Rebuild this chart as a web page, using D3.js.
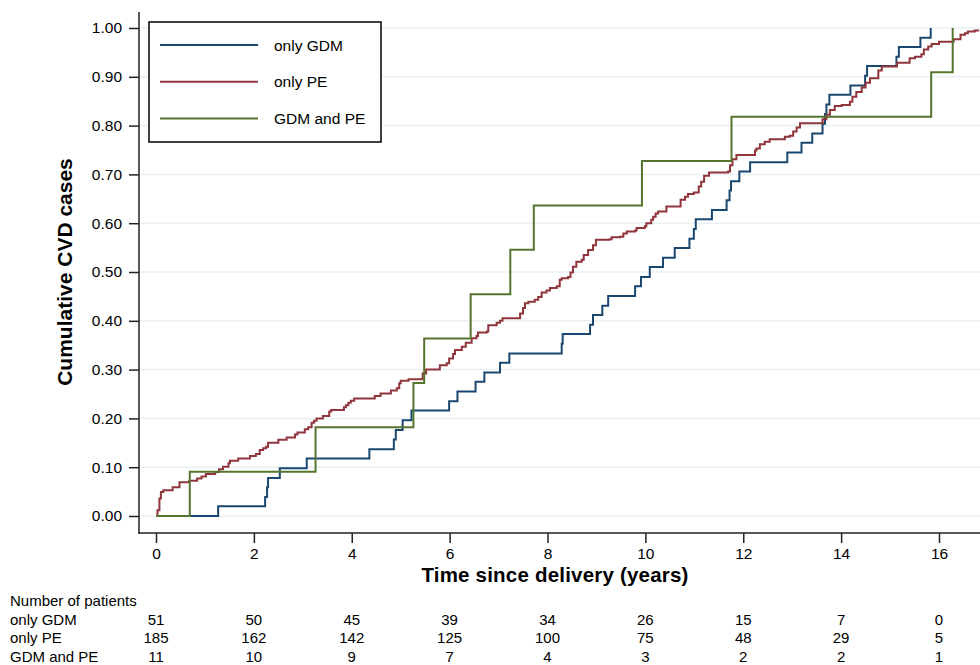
<!DOCTYPE html>
<html>
<head>
<meta charset="utf-8">
<script src="https://cdn.jsdelivr.net/npm/d3@7"></script>
<style>
  body { margin: 0; background: #fff; }
  svg text { font-family: "Liberation Sans", Arial, Helvetica, sans-serif; fill: #000; }
</style>
</head>
<body>
<div class="root"></div>
<script>
// Kaplan-Meier style cumulative curves, [years, cumulative share]
const onlyGDM = [
  [0, 0], [1.27, 0.020], [2.23, 0.039], [2.27, 0.059], [2.29, 0.078], [2.53, 0.098],
  [3.08, 0.118], [4.36, 0.137], [4.86, 0.157], [4.90, 0.176], [5.04, 0.196], [5.22, 0.216],
  [5.99, 0.235], [6.16, 0.255], [6.53, 0.275], [6.71, 0.294], [7.03, 0.314], [7.22, 0.333],
  [8.29, 0.353], [8.31, 0.373], [8.87, 0.392], [8.93, 0.412], [9.12, 0.431], [9.24, 0.451],
  [9.79, 0.471], [9.91, 0.490], [10.09, 0.510], [10.36, 0.529], [10.60, 0.549], [10.90, 0.568],
  [10.99, 0.588], [11.03, 0.608], [11.36, 0.627], [11.66, 0.647], [11.72, 0.667], [11.75, 0.686],
  [11.92, 0.706], [12.14, 0.725], [12.90, 0.745], [13.19, 0.765], [13.41, 0.784], [13.62, 0.804],
  [13.67, 0.824], [13.70, 0.843], [13.76, 0.863], [14.19, 0.882], [14.49, 0.902], [14.53, 0.922],
  [15.13, 0.941], [15.18, 0.961], [15.62, 0.980], [15.83, 1.0]
];
const onlyPE = [
  [0, 0], [0.03, 0.012], [0.07, 0.036], [0.10, 0.049], [0.15, 0.053], [0.34, 0.059], [0.48, 0.069],
  [0.68, 0.072], [0.84, 0.077], [0.93, 0.081], [1.02, 0.086], [1.21, 0.090], [1.29, 0.096],
  [1.37, 0.101], [1.48, 0.108], [1.51, 0.113], [1.68, 0.118], [1.92, 0.123], [2.04, 0.127],
  [2.12, 0.135], [2.19, 0.139], [2.25, 0.142], [2.29, 0.150], [2.50, 0.156], [2.67, 0.161],
  [2.84, 0.167], [2.89, 0.171], [3.04, 0.178], [3.11, 0.182], [3.18, 0.191], [3.23, 0.195],
  [3.28, 0.200], [3.41, 0.205], [3.54, 0.214], [3.58, 0.217], [3.84, 0.223], [3.88, 0.227],
  [3.93, 0.232], [3.98, 0.236], [4.05, 0.241], [4.47, 0.246], [4.59, 0.251], [4.80, 0.257],
  [4.92, 0.262], [4.97, 0.272], [5.00, 0.277], [5.16, 0.280], [5.45, 0.292], [5.52, 0.300],
  [5.80, 0.309], [5.94, 0.313], [5.99, 0.323], [6.07, 0.332], [6.11, 0.340], [6.25, 0.347],
  [6.33, 0.355], [6.45, 0.364], [6.55, 0.369], [6.58, 0.376], [6.76, 0.378], [6.79, 0.391],
  [6.96, 0.396], [7.03, 0.400], [7.08, 0.405], [7.44, 0.415], [7.50, 0.426], [7.54, 0.436],
  [7.61, 0.439], [7.74, 0.443], [7.81, 0.449], [7.88, 0.458], [7.98, 0.462], [8.05, 0.467],
  [8.19, 0.471], [8.25, 0.484], [8.29, 0.487], [8.42, 0.490], [8.47, 0.499], [8.52, 0.511],
  [8.59, 0.521], [8.70, 0.525], [8.74, 0.535], [8.83, 0.545], [8.93, 0.555], [8.99, 0.566],
  [9.27, 0.567], [9.31, 0.571], [9.48, 0.572], [9.55, 0.579], [9.62, 0.583], [9.79, 0.585],
  [9.82, 0.590], [9.99, 0.594], [10.02, 0.600], [10.12, 0.607], [10.16, 0.613], [10.21, 0.620],
  [10.26, 0.624], [10.43, 0.634], [10.72, 0.648], [10.81, 0.654], [10.87, 0.660], [10.99, 0.663],
  [11.09, 0.675], [11.14, 0.685], [11.20, 0.697], [11.30, 0.704], [11.69, 0.706], [11.73, 0.719],
  [11.78, 0.731], [11.86, 0.740], [12.24, 0.749], [12.27, 0.753], [12.34, 0.762], [12.44, 0.767],
  [12.54, 0.772], [12.85, 0.777], [12.95, 0.779], [13.02, 0.788], [13.09, 0.796], [13.16, 0.805],
  [13.62, 0.813], [13.70, 0.822], [13.77, 0.832], [13.87, 0.840], [14.01, 0.842], [14.18, 0.849],
  [14.23, 0.859], [14.31, 0.869], [14.42, 0.878], [14.50, 0.888], [14.59, 0.897], [14.76, 0.913],
  [14.83, 0.921], [15.14, 0.929], [15.40, 0.938], [15.51, 0.941], [15.64, 0.946], [15.69, 0.956],
  [15.78, 0.962], [15.85, 0.967], [16.00, 0.972], [16.30, 0.977], [16.44, 0.986], [16.53, 0.989],
  [16.59, 0.993], [16.73, 0.995], [16.82, 0.995]
];
const gdmAndPE = [
  [0, 0], [0.69, 0.0909], [3.26, 0.1818], [5.26, 0.2727], [5.48, 0.3636], [6.43, 0.4545],
  [7.24, 0.5455], [7.72, 0.6364], [9.93, 0.7273], [11.76, 0.8182], [15.84, 0.9091], [16.28, 1.0]
];

const seriesNames = ["only GDM", "only PE", "GDM and PE"];
const seriesColors = ["#1a476f", "#90353b", "#55752f"];

const xTicks = [0, 2, 4, 6, 8, 10, 12, 14, 16];
const yTicks = [0, 0.1, 0.2, 0.3, 0.4, 0.5, 0.6, 0.7, 0.8, 0.9, 1.0];

// number at risk, one value per x tick
const atRiskGDM = [51, 50, 45, 39, 34, 26, 15, 7, 0];
const atRiskPE = [185, 162, 142, 125, 100, 75, 48, 29, 5];
const atRiskBoth = [11, 10, 9, 7, 4, 3, 2, 2, 1];

const width = 980;
const height = 665;

const svg = d3
  .select("div.root")
  .append("svg")
  .attr("width", width)
  .attr("height", height);

const axisX = 139; // y axis line position
const axisY = 533; // x axis line position

const x = d3.scaleLinear().domain([0, 16]).range([156, 939]);
const y = d3.scaleLinear().domain([0, 1]).range([516, 28]);

// gridlines
svg
  .append("g")
  .selectAll("line")
  .data(yTicks)
  .enter()
  .append("line")
  .attr("x1", axisX + 1)
  .attr("x2", width)
  .attr("y1", d => y(d))
  .attr("y2", d => y(d))
  .attr("stroke", "#eaf1f4")
  .attr("stroke-width", 1.5);

// curves
const line = d3
  .line()
  .x(d => x(d[0]))
  .y(d => y(d[1]))
  .curve(d3.curveStepAfter);

const allSeries = [onlyGDM, onlyPE, gdmAndPE];
svg
  .append("g")
  .selectAll("path")
  .data(allSeries)
  .enter()
  .append("path")
  .attr("d", d => line(d))
  .attr("fill", "none")
  .attr("stroke", (d, i) => seriesColors[i])
  .attr("stroke-width", 2);

// axes
const yaxis = d3
  .axisLeft(y)
  .tickValues(yTicks)
  .tickFormat(d3.format(".2f"))
  .tickSize(10)
  .tickPadding(7);
const gy = svg
  .append("g")
  .attr("transform", `translate(${axisX},0)`)
  .call(yaxis);
gy.select(".domain").remove();
gy.selectAll(".tick line").attr("stroke", "#222").attr("stroke-width", 1.5);
gy.selectAll(".tick text").style("font-size", "15.5px").attr("fill", "#000");

const xaxis = d3.axisBottom(x).tickValues(xTicks).tickSize(10).tickPadding(5);
const gx = svg
  .append("g")
  .attr("transform", `translate(0,${axisY})`)
  .call(xaxis);
gx.select(".domain").remove();
gx.selectAll(".tick line").attr("stroke", "#222").attr("stroke-width", 1.5);
gx.selectAll(".tick text").style("font-size", "15.5px").attr("fill", "#000");

svg
  .append("line")
  .attr("x1", axisX)
  .attr("x2", axisX)
  .attr("y1", 12)
  .attr("y2", axisY + 0.75)
  .attr("stroke", "#222")
  .attr("stroke-width", 1.5);
svg
  .append("line")
  .attr("x1", axisX - 0.75)
  .attr("x2", width)
  .attr("y1", axisY)
  .attr("y2", axisY)
  .attr("stroke", "#222")
  .attr("stroke-width", 1.5);

// axis titles
svg
  .append("text")
  .attr("x", 555)
  .attr("y", 582)
  .attr("text-anchor", "middle")
  .style("font-size", "20.5px")
  .style("font-weight", "bold")
  .style("letter-spacing", "0.2px")
  .text("Time since delivery (years)");

svg
  .append("text")
  .attr("transform", `translate(72,${(y(0) + y(1)) / 2}) rotate(-90)`)
  .attr("text-anchor", "middle")
  .style("font-size", "21px")
  .style("font-weight", "bold")
  .text("Cumulative CVD cases");

// legend
const legend = svg.append("g");
legend
  .append("rect")
  .attr("x", 149)
  .attr("y", 22)
  .attr("width", 232)
  .attr("height", 120)
  .attr("fill", "#fff")
  .attr("stroke", "#000")
  .attr("stroke-width", 1.5);
const legendItems = legend
  .selectAll("g.item")
  .data(seriesNames)
  .enter()
  .append("g")
  .attr("class", "item")
  .attr("transform", (d, i) => `translate(0,${45 + i * 36.7})`);
legendItems
  .append("line")
  .attr("x1", 160)
  .attr("x2", 258)
  .attr("stroke", (d, i) => seriesColors[i])
  .attr("stroke-width", 2);
legendItems
  .append("text")
  .attr("x", 274)
  .attr("dy", "0.36em")
  .style("font-size", "15.5px")
  .text(d => d);

// number at risk table
const table = svg.append("g").style("font-size", "15px");
table
  .append("text")
  .attr("x", 10)
  .attr("y", 606)
  .text("Number of patients");
const riskRows = [atRiskGDM, atRiskPE, atRiskBoth];
riskRows.forEach((row, r) => {
  const rowY = 624.5 + r * 18.5;
  table
    .append("text")
    .attr("x", 10)
    .attr("y", rowY)
    .text(seriesNames[r]);
  table
    .selectAll(`text.n${r}`)
    .data(row)
    .enter()
    .append("text")
    .attr("class", `n${r}`)
    .attr("x", (d, i) => x(xTicks[i]))
    .attr("y", rowY)
    .attr("text-anchor", "middle")
    .text(d => d);
});
</script>
</body>
</html>
